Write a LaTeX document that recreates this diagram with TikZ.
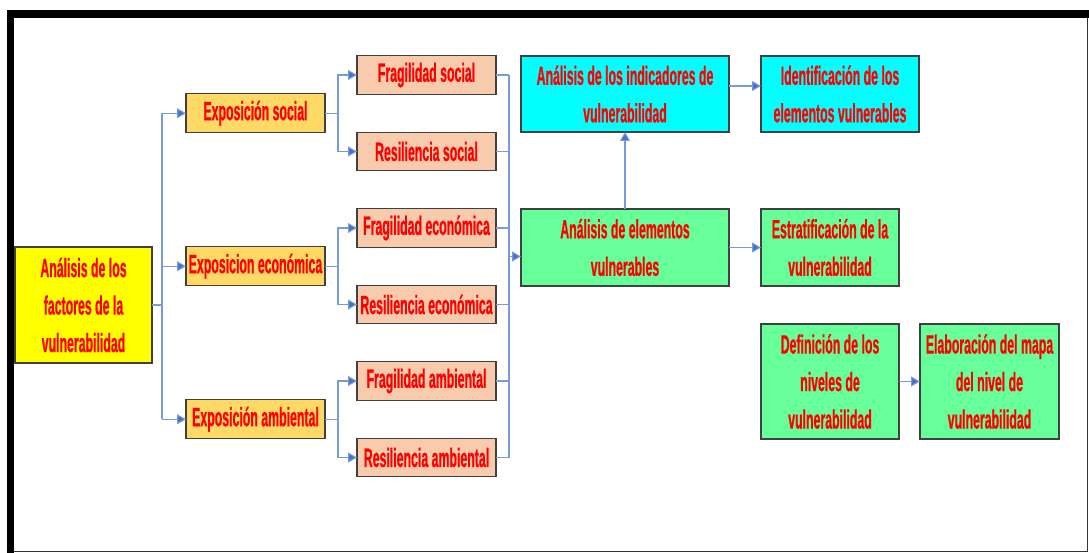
\documentclass[tikz,border=0pt]{standalone}
\usepackage{fontspec}
\newfontfamily\boxfont{Liberation Sans}[FakeStretch=0.465, FakeBold=0.6]
\usetikzlibrary{calc, positioning, arrows.meta}

\begin{document}
\begin{tikzpicture}[x=1pt, y=-1pt, node distance=38pt]
		\definecolor{fillfact}{RGB}{255,255,0}
		\definecolor{fillexp}{RGB}{255,217,102}
		\definecolor{fillfrag}{RGB}{248,203,173}
		\definecolor{fillcyan}{RGB}{0,255,255}
		\definecolor{fillgreen}{RGB}{102,255,153}
		\definecolor{boxgray}{RGB}{64,64,64}
		\definecolor{lineblue}{RGB}{120,155,220}
		\definecolor{tipblue}{RGB}{68,114,196}

		\tikzstyle{box} = [draw=boxgray, line width=1.4pt, inner sep=0pt, outer sep=0pt, align=center, text=red,
			font=\boxfont\bfseries\fontsize{26.5}{37.5}\selectfont]
		\tikzstyle{expbox} = [box, fill=fillexp, minimum width=139pt, minimum height=39pt]
		\tikzstyle{fragbox} = [box, fill=fillfrag, minimum width=139pt, minimum height=38.5pt]
		\tikzstyle{conn} = [draw=lineblue, line width=1.1pt]
		\tikzstyle{arr} = [conn, -{Triangle[length=9pt, width=10pt, fill=tipblue]}]

		\useasboundingbox (0,0) rectangle (1089,553);

		% marco
		\fill[black] (7,10) rectangle (1089,18);
		\fill[black] (7,10) rectangle (14,553);
		\draw[black!80, line width=1pt] (14,551) -- (1087,551) -- (1087,18);

		\node[box, fill=fillfact, minimum width=137pt, minimum height=116pt] (fact) at (83.5,305)
			{Análisis de los\\factores de la\\vulnerabilidad};

		\node[fragbox] (fragS) at (426.5,75) {Fragilidad social};
		\node[fragbox, below=of fragS] (resS) {Resiliencia social};
		\node[fragbox, below=of resS] (fragE) {Fragilidad económica};
		\node[fragbox, below=of fragE] (resE) {Resiliencia económica};
		\node[fragbox, below=of resE] (fragA) {Fragilidad ambiental};
		\node[fragbox, below=of fragA] (resA) {Resiliencia ambiental};

		\coordinate (midS) at ($(fragS.west)!0.5!(resS.west)$);
		\coordinate (midE) at ($(fragE.west)!0.5!(resE.west)$);
		\coordinate (midA) at ($(fragA.west)!0.5!(resA.west)$);
		\node[expbox, left=32pt of midS] (expS) {Exposición social};
		\node[expbox, left=32pt of midE] (expE) {Exposicion económica};
		\node[expbox, left=32pt of midA] (expA) {Exposición ambiental};

		\node[box, fill=fillcyan, minimum width=208pt, minimum height=76pt] (ind) at (625,94)
			{Análisis de los indicadores de\\vulnerabilidad};
		\node[box, fill=fillgreen, minimum width=208pt, minimum height=77pt, below=77pt of ind] (elem)
			{Análisis de elementos\\vulnerables};
		\node[box, fill=fillcyan, minimum width=158pt, minimum height=76pt, right=32pt of ind] (ident)
			{Identificación de los\\elementos vulnerables};
		\node[box, fill=fillgreen, minimum width=138pt, minimum height=77pt, anchor=west] (estrat)
			at ($(elem.east)+(32,0)$) {Estratificación de la\\vulnerabilidad};
		\node[box, fill=fillgreen, minimum width=138pt, minimum height=115pt, anchor=north west] (defin)
			at ($(estrat.south west)+(0,38)$) {Definición de los\\niveles de\\vulnerabilidad};
		\node[box, fill=fillgreen, minimum width=139pt, minimum height=115pt, right=21pt of defin] (elab)
			{Elaboración del mapa\\del nivel de\\vulnerabilidad};

		\coordinate (tr) at ($(fact.east)+(10,0)$);
		\draw[conn] (fact.east) -- (tr);
		\draw[conn] (tr |- expS.west) -- (tr |- expA.west);
		\foreach \e in {expS,expE,expA}
			\draw[arr] (tr |- \e.west) -- (\e.west);

		\foreach \e/\f/\r in {expS/fragS/resS, expE/fragE/resE, expA/fragA/resA} {
			\coordinate (b\e) at ($(\e.east)+(13,0)$);
			\draw[conn] (\e.east) -- (b\e);
			\draw[arr] (b\e) |- (\f.west);
			\draw[arr] (b\e) |- (\r.west);
		}

		\coordinate (col) at ($(fragS.east)+(13,0)$);
		\foreach \n in {fragS,resS,fragE,resE,fragA,resA}
			\draw[conn] (\n.east) -- (\n.east -| col);
		\draw[conn] (col) -- (col |- resA.east);
		\coordinate (elemin) at ($(elem.west)+(0,9)$);
		\draw[arr] (col |- elemin) -- (elemin);

		\draw[arr] (elem.north) -- (ind.south);
		\draw[arr] ($(ind.east)+(0,-8)$) -- ($(ident.west)+(0,-8)$);
		\draw[arr] (elem.east) -- (estrat.west);
		\draw[arr] (defin.east) -- (elab.west);
	\end{tikzpicture}
\end{document}
